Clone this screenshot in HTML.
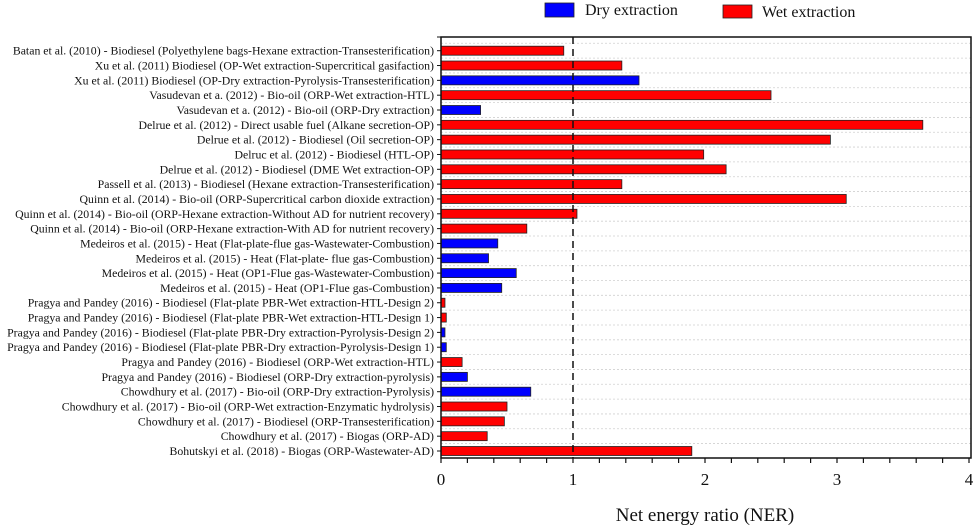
<!DOCTYPE html>
<html><head><meta charset="utf-8"><style>
body{margin:0;background:#fff;}
svg{display:block;font-family:"Liberation Serif",serif;}
</style></head><body>
<svg id="chart" width="979" height="529">
<g id="legend">
<rect x="545" y="3" width="29" height="14" fill="#0000ff" stroke="#222" stroke-width="0.8"/>
<text x="585" y="15" font-size="16" fill="#111">Dry extraction</text>
<rect x="723" y="5" width="29" height="13" fill="#ff0000" stroke="#222" stroke-width="0.8"/>
<text x="762" y="17" font-size="16" fill="#111">Wet extraction</text>
</g>
<g id="grid"></g><g id="bars"></g><g id="axes"></g>
<text x="705" y="521" font-size="19" text-anchor="middle" fill="#111">Net energy ratio (NER)</text>
</svg>
<script>
const categories=[
"Batan et al. (2010) - Biodiesel (Polyethylene bags-Hexane extraction-Transesterification)",
"Xu et al. (2011) Biodiesel (OP-Wet extraction-Supercritical gasifaction)",
"Xu et al. (2011) Biodiesel (OP-Dry extraction-Pyrolysis-Transesterification)",
"Vasudevan et a. (2012) - Bio-oil (ORP-Wet extraction-HTL)",
"Vasudevan et a. (2012) - Bio-oil (ORP-Dry extraction)",
"Delrue et al. (2012) - Direct usable fuel (Alkane secretion-OP)",
"Delrue et al. (2012) - Biodiesel (Oil secretion-OP)",
"Delruc et al. (2012) - Biodiesel (HTL-OP)",
"Delrue et al. (2012) - Biodiesel (DME Wet extraction-OP)",
"Passell et al. (2013) - Biodiesel (Hexane extraction-Transesterification)",
"Quinn et al. (2014) - Bio-oil (ORP-Supercritical carbon dioxide extraction)",
"Quinn et al. (2014) - Bio-oil (ORP-Hexane extraction-Without AD for nutrient recovery)",
"Quinn et al. (2014) - Bio-oil (ORP-Hexane extraction-With AD for nutrient recovery)",
"Medeiros et al. (2015) - Heat (Flat-plate-flue gas-Wastewater-Combustion)",
"Medeiros et al. (2015) - Heat (Flat-plate- flue gas-Combustion)",
"Medeiros et al. (2015) - Heat (OP1-Flue gas-Wastewater-Combustion)",
"Medeiros et al. (2015) - Heat (OP1-Flue gas-Combustion)",
"Pragya and Pandey (2016) - Biodiesel (Flat-plate PBR-Wet extraction-HTL-Design 2)",
"Pragya and Pandey (2016) - Biodiesel (Flat-plate PBR-Wet extraction-HTL-Design 1)",
"Pragya and Pandey (2016) - Biodiesel (Flat-plate PBR-Dry extraction-Pyrolysis-Design 2)",
"Pragya and Pandey (2016) - Biodiesel (Flat-plate PBR-Dry extraction-Pyrolysis-Design 1)",
"Pragya and Pandey (2016) - Biodiesel (ORP-Wet extraction-HTL)",
"Pragya and Pandey (2016) - Biodiesel (ORP-Dry extraction-pyrolysis)",
"Chowdhury et al. (2017) - Bio-oil (ORP-Dry extraction-Pyrolysis)",
"Chowdhury et al. (2017) - Bio-oil (ORP-Wet extraction-Enzymatic hydrolysis)",
"Chowdhury et al. (2017) - Biodiesel (ORP-Transesterification)",
"Chowdhury et al. (2017) - Biogas (ORP-AD)",
"Bohutskyi et al. (2018) - Biogas (ORP-Wastewater-AD)"];
const values=[0.93,1.37,1.5,2.5,0.3,3.65,2.95,1.99,2.16,1.37,3.07,1.03,0.65,0.43,0.36,0.57,0.46,0.03,0.04,0.03,0.04,0.16,0.2,0.68,0.5,0.48,0.35,1.9];
const types=["wet","wet","dry","wet","dry","wet","wet","wet","wet","wet","wet","wet","wet","dry","dry","dry","dry","wet","wet","dry","dry","wet","dry","dry","wet","wet","wet","wet"];
const xTicks=[0,1,2,3,4];
const refLine=1;

const NS="http://www.w3.org/2000/svg";
const L=441,R=969,T=37,B=458,FR=971;
const firstY=50.7,lastY=451;
const n=categories.length;
const step=(lastY-firstY)/(n-1);
function xs(v){return L+(v-0)/(4-0)*(R-L);}
function ys(i){return firstY+i*step;}
function mk(tag,attrs,parent){const e=document.createElementNS(NS,tag);for(const k in attrs)e.setAttribute(k,attrs[k]);parent.appendChild(e);return e;}
const grid=document.getElementById('grid'),bars=document.getElementById('bars'),axes=document.getElementById('axes');
for(let i=0;i<=n-1;i++){
  const y=ys(i)-step/2;
  const g=mk('line',{x1:L,x2:FR,y1:y,y2:y,stroke:'#d0d0d0','stroke-width':0.8,'stroke-dasharray':'2,2'},grid);
  
  
}
categories.forEach((c,i)=>{
  const y=ys(i);
  const r=mk('rect',{x:L,y:y-4.5,width:xs(values[i])-L,height:9,fill:types[i]==='dry'?'#0000ff':'#ff0000',stroke:'#222','stroke-width':0.8},bars);
  
  
  const t=mk('text',{x:L-7,y:y+4,'font-size':'11.8','text-anchor':'end',fill:'#111'},axes);
  t.textContent=c;
  
  
  const tk=mk('line',{x1:L-4,x2:L,y1:y,y2:y,stroke:'#111','stroke-width':1},axes);
  
  
});
const tt=mk('line',{x1:L-4,x2:L,y1:T,y2:T,stroke:'#111','stroke-width':1},axes);


const ref=mk('line',{x1:xs(refLine),x2:xs(refLine),y1:T,y2:B,stroke:'#111','stroke-width':1.5,'stroke-dasharray':'7,5'},axes);


const fr=mk('rect',{x:L,y:T,width:FR-L,height:B-T,fill:'none',stroke:'#111','stroke-width':1.5},axes);


for(let v=0;v<=4.001;v+=0.2){
  const x=xs(v);
  const m=mk('line',{x1:x,x2:x,y1:B,y2:B+5,stroke:'#111','stroke-width':1.2},axes);
  
  
}
xTicks.forEach(v=>{
  const t=mk('text',{x:xs(v),y:485,'font-size':'17','text-anchor':'middle',fill:'#111'},axes);
  t.textContent=String(v);
  
  
});
</script>
</body></html>
